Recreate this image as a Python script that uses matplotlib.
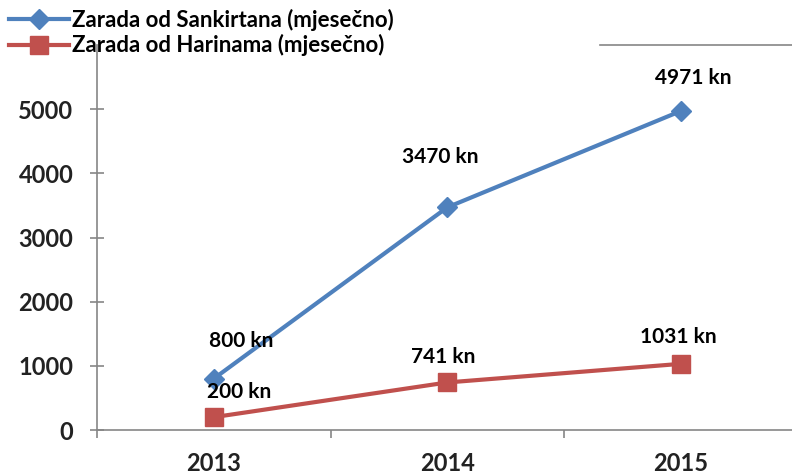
import matplotlib.pyplot as plt

years = ["2013", "2014", "2015"]
sankirtana = [800, 3470, 4971]
harinama = [200, 741, 1031]
sank_labels = ["800 kn", "3470 kn", "4971 kn"]
hari_labels = ["200 kn", "741 kn", "1031 kn"]

plt.rcParams['font.family'] = ['Lato', 'DejaVu Sans']

fig = plt.figure(figsize=(7.92, 4.75), dpi=100)
ax = fig.add_axes([97 / 792, 45 / 475, 695 / 792, 385 / 475])

x = list(range(len(years)))
blue = "#4F81BD"
red = "#C0504D"
ax.plot(x, sankirtana, color=blue, lw=3, marker="D", ms=10, label="Zarada od Sankirtana (mjesečno)",
        clip_on=False, zorder=3)
ax.plot(x, harinama, color=red, lw=3, marker="s", ms=13, label="Zarada od Harinama (mjesečno)",
        clip_on=False, zorder=3)

# label offsets in points
sank_off = [(20, 27), (-5, 36), (9, 24)]
hari_off = [(18, 18), (-3, 18), (-2, 19)]
for i in x:
    ax.annotate(sank_labels[i], (x[i], sankirtana[i]), xytext=sank_off[i], textcoords="offset points",
                ha="center", va="center", fontsize=15, fontweight="bold")
    ax.annotate(hari_labels[i], (x[i], harinama[i]), xytext=hari_off[i], textcoords="offset points",
                ha="center", va="center", fontsize=15, fontweight="bold")

ax.set_xlim(-0.5, 2.476)
ax.set_ylim(0, 6000)
ax.set_xticks(x)
ax.set_xticklabels(years)
ax.set_xticks([-0.5, 0.5, 1.5], minor=True)
ax.set_yticks([0, 1000, 2000, 3000, 4000, 5000])

gray = "#868686"
for s in ["top", "right"]:
    ax.spines[s].set_visible(False)
for s in ["left", "bottom"]:
    ax.spines[s].set_color(gray)
    ax.spines[s].set_linewidth(1.2)
ax.axhline(6000, xmin=0.724, xmax=1, color=gray, lw=1.2, clip_on=False)

ax.tick_params(axis="x", which="major", length=0, pad=16, labelsize=17)
ax.tick_params(axis="x", which="minor", length=6, color=gray, width=1.2)
ax.tick_params(axis="y", direction="inout", length=10, color=gray, width=1.2, pad=12, labelsize=17)
for lab in ax.get_xticklabels() + ax.get_yticklabels():
    lab.set_fontweight("bold")
    lab.set_color("#222222")

leg = fig.legend(loc="upper left", bbox_to_anchor=(0.0, 1.0), frameon=False, fontsize=16,
                 handlelength=2.7, handletextpad=0.15, labelspacing=0.15, borderaxespad=0.1,
                 borderpad=0.3)
for t in leg.get_texts():
    t.set_fontweight("bold")

fig.savefig("out.png", dpi=100)
